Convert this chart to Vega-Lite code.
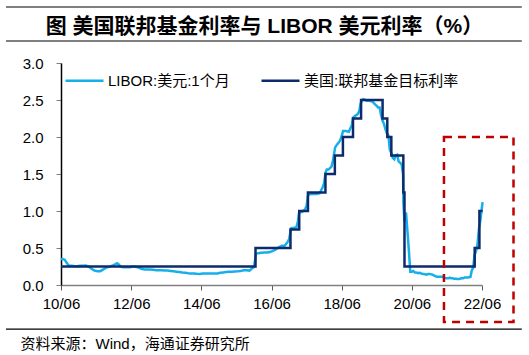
{
  "$schema": "https://vega.github.io/schema/vega-lite/v6.json",
  "width": 421,
  "height": 222,
  "autosize": {"type": "none"},
  "padding": {"left": 61, "top": 63, "right": 47, "bottom": 70},
  "background": "white",
  "config": {
    "view": {"stroke": null},
    "font": "Liberation Sans, Noto Sans CJK SC",
    "axis": {"grid": false, "labelFont": "Liberation Sans, Noto Sans CJK SC", "labelFontSize": 15, "labelColor": "#000000", "labelOverlap": false},
    "axisY": {"values": [0, 0.5, 1, 1.5, 2, 2.5, 3], "format": ".1f", "title": null, "tickSize": 5, "tickColor": "#808080", "domainColor": "#000000", "domainWidth": 1.5, "labelPadding": 13, "labelOverlap": false, "labelFlush": false},
    "legend": {"labelFont": "Liberation Sans, Noto Sans CJK SC", "labelFontSize": 15, "labelColor": "#000000"}
  },
  "datasets": {
    "rates": [
      {"date": "2010-06-01", "series": "LIBOR:美元:1个月", "value": 0.35},
      {"date": "2010-06-20", "series": "LIBOR:美元:1个月", "value": 0.35},
      {"date": "2010-07-10", "series": "LIBOR:美元:1个月", "value": 0.34},
      {"date": "2010-07-25", "series": "LIBOR:美元:1个月", "value": 0.31},
      {"date": "2010-08-10", "series": "LIBOR:美元:1个月", "value": 0.28},
      {"date": "2010-08-25", "series": "LIBOR:美元:1个月", "value": 0.26},
      {"date": "2010-09-15", "series": "LIBOR:美元:1个月", "value": 0.26},
      {"date": "2010-10-15", "series": "LIBOR:美元:1个月", "value": 0.256},
      {"date": "2010-11-15", "series": "LIBOR:美元:1个月", "value": 0.253},
      {"date": "2010-12-15", "series": "LIBOR:美元:1个月", "value": 0.26},
      {"date": "2011-01-15", "series": "LIBOR:美元:1个月", "value": 0.26},
      {"date": "2011-02-15", "series": "LIBOR:美元:1个月", "value": 0.262},
      {"date": "2011-03-15", "series": "LIBOR:美元:1个月", "value": 0.25},
      {"date": "2011-04-15", "series": "LIBOR:美元:1个月", "value": 0.22},
      {"date": "2011-05-15", "series": "LIBOR:美元:1个月", "value": 0.195},
      {"date": "2011-06-15", "series": "LIBOR:美元:1个月", "value": 0.187},
      {"date": "2011-07-15", "series": "LIBOR:美元:1个月", "value": 0.187},
      {"date": "2011-08-15", "series": "LIBOR:美元:1个月", "value": 0.21},
      {"date": "2011-09-15", "series": "LIBOR:美元:1个月", "value": 0.235},
      {"date": "2011-10-15", "series": "LIBOR:美元:1个月", "value": 0.245},
      {"date": "2011-11-15", "series": "LIBOR:美元:1个月", "value": 0.26},
      {"date": "2011-12-15", "series": "LIBOR:美元:1个月", "value": 0.28},
      {"date": "2012-01-05", "series": "LIBOR:美元:1个月", "value": 0.295},
      {"date": "2012-01-20", "series": "LIBOR:美元:1个月", "value": 0.28},
      {"date": "2012-02-15", "series": "LIBOR:美元:1个月", "value": 0.245},
      {"date": "2012-03-15", "series": "LIBOR:美元:1个月", "value": 0.24},
      {"date": "2012-04-15", "series": "LIBOR:美元:1个月", "value": 0.24},
      {"date": "2012-05-15", "series": "LIBOR:美元:1个月", "value": 0.24},
      {"date": "2012-06-15", "series": "LIBOR:美元:1个月", "value": 0.245},
      {"date": "2012-07-15", "series": "LIBOR:美元:1个月", "value": 0.245},
      {"date": "2012-08-15", "series": "LIBOR:美元:1个月", "value": 0.235},
      {"date": "2012-09-15", "series": "LIBOR:美元:1个月", "value": 0.22},
      {"date": "2012-10-15", "series": "LIBOR:美元:1个月", "value": 0.21},
      {"date": "2012-11-15", "series": "LIBOR:美元:1个月", "value": 0.21},
      {"date": "2012-12-15", "series": "LIBOR:美元:1个月", "value": 0.21},
      {"date": "2013-01-15", "series": "LIBOR:美元:1个月", "value": 0.205},
      {"date": "2013-02-15", "series": "LIBOR:美元:1个月", "value": 0.2},
      {"date": "2013-03-15", "series": "LIBOR:美元:1个月", "value": 0.2},
      {"date": "2013-04-15", "series": "LIBOR:美元:1个月", "value": 0.2},
      {"date": "2013-05-15", "series": "LIBOR:美元:1个月", "value": 0.195},
      {"date": "2013-06-15", "series": "LIBOR:美元:1个月", "value": 0.195},
      {"date": "2013-07-15", "series": "LIBOR:美元:1个月", "value": 0.19},
      {"date": "2013-08-15", "series": "LIBOR:美元:1个月", "value": 0.185},
      {"date": "2013-09-15", "series": "LIBOR:美元:1个月", "value": 0.18},
      {"date": "2013-10-15", "series": "LIBOR:美元:1个月", "value": 0.175},
      {"date": "2013-11-15", "series": "LIBOR:美元:1个月", "value": 0.17},
      {"date": "2013-12-15", "series": "LIBOR:美元:1个月", "value": 0.167},
      {"date": "2014-01-15", "series": "LIBOR:美元:1个月", "value": 0.16},
      {"date": "2014-02-15", "series": "LIBOR:美元:1个月", "value": 0.155},
      {"date": "2014-03-15", "series": "LIBOR:美元:1个月", "value": 0.155},
      {"date": "2014-04-15", "series": "LIBOR:美元:1个月", "value": 0.152},
      {"date": "2014-05-15", "series": "LIBOR:美元:1个月", "value": 0.15},
      {"date": "2014-06-15", "series": "LIBOR:美元:1个月", "value": 0.155},
      {"date": "2014-07-15", "series": "LIBOR:美元:1个月", "value": 0.155},
      {"date": "2014-08-15", "series": "LIBOR:美元:1个月", "value": 0.157},
      {"date": "2014-09-15", "series": "LIBOR:美元:1个月", "value": 0.155},
      {"date": "2014-10-15", "series": "LIBOR:美元:1个月", "value": 0.155},
      {"date": "2014-11-15", "series": "LIBOR:美元:1个月", "value": 0.155},
      {"date": "2014-12-15", "series": "LIBOR:美元:1个月", "value": 0.165},
      {"date": "2015-01-15", "series": "LIBOR:美元:1个月", "value": 0.17},
      {"date": "2015-02-15", "series": "LIBOR:美元:1个月", "value": 0.175},
      {"date": "2015-03-15", "series": "LIBOR:美元:1个月", "value": 0.178},
      {"date": "2015-04-15", "series": "LIBOR:美元:1个月", "value": 0.18},
      {"date": "2015-05-15", "series": "LIBOR:美元:1个月", "value": 0.184},
      {"date": "2015-06-15", "series": "LIBOR:美元:1个月", "value": 0.186},
      {"date": "2015-07-15", "series": "LIBOR:美元:1个月", "value": 0.19},
      {"date": "2015-08-15", "series": "LIBOR:美元:1个月", "value": 0.2},
      {"date": "2015-09-15", "series": "LIBOR:美元:1个月", "value": 0.2},
      {"date": "2015-10-15", "series": "LIBOR:美元:1个月", "value": 0.195},
      {"date": "2015-11-15", "series": "LIBOR:美元:1个月", "value": 0.23},
      {"date": "2015-12-01", "series": "LIBOR:美元:1个月", "value": 0.24},
      {"date": "2015-12-15", "series": "LIBOR:美元:1个月", "value": 0.36},
      {"date": "2015-12-22", "series": "LIBOR:美元:1个月", "value": 0.42},
      {"date": "2016-01-15", "series": "LIBOR:美元:1个月", "value": 0.43},
      {"date": "2016-02-15", "series": "LIBOR:美元:1个月", "value": 0.435},
      {"date": "2016-03-15", "series": "LIBOR:美元:1个月", "value": 0.44},
      {"date": "2016-04-15", "series": "LIBOR:美元:1个月", "value": 0.44},
      {"date": "2016-05-15", "series": "LIBOR:美元:1个月", "value": 0.445},
      {"date": "2016-06-15", "series": "LIBOR:美元:1个月", "value": 0.46},
      {"date": "2016-07-15", "series": "LIBOR:美元:1个月", "value": 0.48},
      {"date": "2016-08-15", "series": "LIBOR:美元:1个月", "value": 0.51},
      {"date": "2016-09-15", "series": "LIBOR:美元:1个月", "value": 0.53},
      {"date": "2016-10-15", "series": "LIBOR:美元:1个月", "value": 0.53},
      {"date": "2016-11-15", "series": "LIBOR:美元:1个月", "value": 0.58},
      {"date": "2016-12-01", "series": "LIBOR:美元:1个月", "value": 0.62},
      {"date": "2016-12-15", "series": "LIBOR:美元:1个月", "value": 0.72},
      {"date": "2016-12-25", "series": "LIBOR:美元:1个月", "value": 0.77},
      {"date": "2017-01-15", "series": "LIBOR:美元:1个月", "value": 0.77},
      {"date": "2017-02-15", "series": "LIBOR:美元:1个月", "value": 0.78},
      {"date": "2017-03-01", "series": "LIBOR:美元:1个月", "value": 0.85},
      {"date": "2017-03-15", "series": "LIBOR:美元:1个月", "value": 0.98},
      {"date": "2017-04-15", "series": "LIBOR:美元:1个月", "value": 0.99},
      {"date": "2017-05-15", "series": "LIBOR:美元:1个月", "value": 1.02},
      {"date": "2017-06-01", "series": "LIBOR:美元:1个月", "value": 1.07},
      {"date": "2017-06-15", "series": "LIBOR:美元:1个月", "value": 1.21},
      {"date": "2017-07-15", "series": "LIBOR:美元:1个月", "value": 1.23},
      {"date": "2017-08-15", "series": "LIBOR:美元:1个月", "value": 1.23},
      {"date": "2017-09-15", "series": "LIBOR:美元:1个月", "value": 1.23},
      {"date": "2017-10-15", "series": "LIBOR:美元:1个月", "value": 1.24},
      {"date": "2017-11-15", "series": "LIBOR:美元:1个月", "value": 1.32},
      {"date": "2017-12-01", "series": "LIBOR:美元:1个月", "value": 1.38},
      {"date": "2017-12-15", "series": "LIBOR:美元:1个月", "value": 1.52},
      {"date": "2017-12-28", "series": "LIBOR:美元:1个月", "value": 1.56},
      {"date": "2018-01-15", "series": "LIBOR:美元:1个月", "value": 1.56},
      {"date": "2018-02-15", "series": "LIBOR:美元:1个月", "value": 1.6},
      {"date": "2018-03-01", "series": "LIBOR:美元:1个月", "value": 1.67},
      {"date": "2018-03-15", "series": "LIBOR:美元:1个月", "value": 1.78},
      {"date": "2018-03-25", "series": "LIBOR:美元:1个月", "value": 1.86},
      {"date": "2018-04-15", "series": "LIBOR:美元:1个月", "value": 1.9},
      {"date": "2018-05-15", "series": "LIBOR:美元:1个月", "value": 1.95},
      {"date": "2018-06-01", "series": "LIBOR:美元:1个月", "value": 2.01},
      {"date": "2018-06-15", "series": "LIBOR:美元:1个月", "value": 2.08},
      {"date": "2018-07-15", "series": "LIBOR:美元:1个月", "value": 2.08},
      {"date": "2018-08-15", "series": "LIBOR:美元:1个月", "value": 2.07},
      {"date": "2018-09-01", "series": "LIBOR:美元:1个月", "value": 2.12},
      {"date": "2018-09-15", "series": "LIBOR:美元:1个月", "value": 2.16},
      {"date": "2018-09-28", "series": "LIBOR:美元:1个月", "value": 2.26},
      {"date": "2018-10-15", "series": "LIBOR:美元:1个月", "value": 2.28},
      {"date": "2018-11-15", "series": "LIBOR:美元:1个月", "value": 2.31},
      {"date": "2018-12-01", "series": "LIBOR:美元:1个月", "value": 2.35},
      {"date": "2018-12-15", "series": "LIBOR:美元:1个月", "value": 2.45},
      {"date": "2018-12-31", "series": "LIBOR:美元:1个月", "value": 2.5},
      {"date": "2019-01-15", "series": "LIBOR:美元:1个月", "value": 2.51},
      {"date": "2019-02-15", "series": "LIBOR:美元:1个月", "value": 2.49},
      {"date": "2019-03-15", "series": "LIBOR:美元:1个月", "value": 2.49},
      {"date": "2019-04-15", "series": "LIBOR:美元:1个月", "value": 2.48},
      {"date": "2019-05-15", "series": "LIBOR:美元:1个月", "value": 2.44},
      {"date": "2019-06-01", "series": "LIBOR:美元:1个月", "value": 2.42},
      {"date": "2019-06-15", "series": "LIBOR:美元:1个月", "value": 2.4},
      {"date": "2019-07-01", "series": "LIBOR:美元:1个月", "value": 2.4},
      {"date": "2019-07-15", "series": "LIBOR:美元:1个月", "value": 2.3},
      {"date": "2019-08-01", "series": "LIBOR:美元:1个月", "value": 2.22},
      {"date": "2019-08-15", "series": "LIBOR:美元:1个月", "value": 2.18},
      {"date": "2019-09-01", "series": "LIBOR:美元:1个月", "value": 2.1},
      {"date": "2019-09-15", "series": "LIBOR:美元:1个月", "value": 2.05},
      {"date": "2019-10-01", "series": "LIBOR:美元:1个月", "value": 2.02},
      {"date": "2019-10-15", "series": "LIBOR:美元:1个月", "value": 1.83},
      {"date": "2019-11-01", "series": "LIBOR:美元:1个月", "value": 1.78},
      {"date": "2019-11-15", "series": "LIBOR:美元:1个月", "value": 1.72},
      {"date": "2019-12-01", "series": "LIBOR:美元:1个月", "value": 1.7},
      {"date": "2019-12-15", "series": "LIBOR:美元:1个月", "value": 1.75},
      {"date": "2019-12-31", "series": "LIBOR:美元:1个月", "value": 1.76},
      {"date": "2020-01-15", "series": "LIBOR:美元:1个月", "value": 1.67},
      {"date": "2020-02-01", "series": "LIBOR:美元:1个月", "value": 1.65},
      {"date": "2020-02-15", "series": "LIBOR:美元:1个月", "value": 1.63},
      {"date": "2020-03-01", "series": "LIBOR:美元:1个月", "value": 1.5},
      {"date": "2020-03-05", "series": "LIBOR:美元:1个月", "value": 1.1},
      {"date": "2020-03-16", "series": "LIBOR:美元:1个月", "value": 0.86},
      {"date": "2020-03-25", "series": "LIBOR:美元:1个月", "value": 0.95},
      {"date": "2020-04-01", "series": "LIBOR:美元:1个月", "value": 0.98},
      {"date": "2020-04-15", "series": "LIBOR:美元:1个月", "value": 0.74},
      {"date": "2020-05-01", "series": "LIBOR:美元:1个月", "value": 0.46},
      {"date": "2020-05-15", "series": "LIBOR:美元:1个月", "value": 0.18},
      {"date": "2020-06-01", "series": "LIBOR:美元:1个月", "value": 0.18},
      {"date": "2020-06-15", "series": "LIBOR:美元:1个月", "value": 0.19},
      {"date": "2020-07-01", "series": "LIBOR:美元:1个月", "value": 0.17},
      {"date": "2020-07-15", "series": "LIBOR:美元:1个月", "value": 0.17},
      {"date": "2020-08-01", "series": "LIBOR:美元:1个月", "value": 0.16},
      {"date": "2020-08-15", "series": "LIBOR:美元:1个月", "value": 0.165},
      {"date": "2020-09-01", "series": "LIBOR:美元:1个月", "value": 0.16},
      {"date": "2020-09-15", "series": "LIBOR:美元:1个月", "value": 0.15},
      {"date": "2020-10-01", "series": "LIBOR:美元:1个月", "value": 0.148},
      {"date": "2020-10-15", "series": "LIBOR:美元:1个月", "value": 0.145},
      {"date": "2020-11-01", "series": "LIBOR:美元:1个月", "value": 0.14},
      {"date": "2020-11-15", "series": "LIBOR:美元:1个月", "value": 0.15},
      {"date": "2020-12-01", "series": "LIBOR:美元:1个月", "value": 0.15},
      {"date": "2020-12-15", "series": "LIBOR:美元:1个月", "value": 0.145},
      {"date": "2021-01-01", "series": "LIBOR:美元:1个月", "value": 0.14},
      {"date": "2021-01-15", "series": "LIBOR:美元:1个月", "value": 0.13},
      {"date": "2021-02-01", "series": "LIBOR:美元:1个月", "value": 0.12},
      {"date": "2021-02-15", "series": "LIBOR:美元:1个月", "value": 0.11},
      {"date": "2021-03-01", "series": "LIBOR:美元:1个月", "value": 0.11},
      {"date": "2021-03-15", "series": "LIBOR:美元:1个月", "value": 0.11},
      {"date": "2021-04-01", "series": "LIBOR:美元:1个月", "value": 0.11},
      {"date": "2021-04-15", "series": "LIBOR:美元:1个月", "value": 0.11},
      {"date": "2021-05-01", "series": "LIBOR:美元:1个月", "value": 0.1},
      {"date": "2021-05-15", "series": "LIBOR:美元:1个月", "value": 0.095},
      {"date": "2021-06-01", "series": "LIBOR:美元:1个月", "value": 0.09},
      {"date": "2021-06-15", "series": "LIBOR:美元:1个月", "value": 0.09},
      {"date": "2021-07-01", "series": "LIBOR:美元:1个月", "value": 0.1},
      {"date": "2021-07-15", "series": "LIBOR:美元:1个月", "value": 0.09},
      {"date": "2021-08-01", "series": "LIBOR:美元:1个月", "value": 0.09},
      {"date": "2021-08-15", "series": "LIBOR:美元:1个月", "value": 0.085},
      {"date": "2021-09-01", "series": "LIBOR:美元:1个月", "value": 0.085},
      {"date": "2021-09-15", "series": "LIBOR:美元:1个月", "value": 0.08},
      {"date": "2021-10-01", "series": "LIBOR:美元:1个月", "value": 0.08},
      {"date": "2021-10-15", "series": "LIBOR:美元:1个月", "value": 0.085},
      {"date": "2021-11-01", "series": "LIBOR:美元:1个月", "value": 0.09},
      {"date": "2021-11-15", "series": "LIBOR:美元:1个月", "value": 0.09},
      {"date": "2021-12-01", "series": "LIBOR:美元:1个月", "value": 0.1},
      {"date": "2021-12-15", "series": "LIBOR:美元:1个月", "value": 0.1},
      {"date": "2022-01-01", "series": "LIBOR:美元:1个月", "value": 0.1},
      {"date": "2022-01-15", "series": "LIBOR:美元:1个月", "value": 0.105},
      {"date": "2022-02-01", "series": "LIBOR:美元:1个月", "value": 0.11},
      {"date": "2022-02-15", "series": "LIBOR:美元:1个月", "value": 0.2},
      {"date": "2022-03-01", "series": "LIBOR:美元:1个月", "value": 0.23},
      {"date": "2022-03-15", "series": "LIBOR:美元:1个月", "value": 0.4},
      {"date": "2022-04-01", "series": "LIBOR:美元:1个月", "value": 0.46},
      {"date": "2022-04-15", "series": "LIBOR:美元:1个月", "value": 0.55},
      {"date": "2022-05-01", "series": "LIBOR:美元:1个月", "value": 0.77},
      {"date": "2022-05-15", "series": "LIBOR:美元:1个月", "value": 0.87},
      {"date": "2022-06-01", "series": "LIBOR:美元:1个月", "value": 1.06},
      {"date": "2022-06-07", "series": "LIBOR:美元:1个月", "value": 1.12},
      {"date": "2010-06-01", "series": "美国:联邦基金目标利率", "value": 0.25},
      {"date": "2015-12-17", "series": "美国:联邦基金目标利率", "value": 0.5},
      {"date": "2016-12-15", "series": "美国:联邦基金目标利率", "value": 0.75},
      {"date": "2017-03-16", "series": "美国:联邦基金目标利率", "value": 1.0},
      {"date": "2017-06-15", "series": "美国:联邦基金目标利率", "value": 1.25},
      {"date": "2017-12-14", "series": "美国:联邦基金目标利率", "value": 1.5},
      {"date": "2018-03-22", "series": "美国:联邦基金目标利率", "value": 1.75},
      {"date": "2018-06-14", "series": "美国:联邦基金目标利率", "value": 2.0},
      {"date": "2018-09-27", "series": "美国:联邦基金目标利率", "value": 2.25},
      {"date": "2018-12-20", "series": "美国:联邦基金目标利率", "value": 2.5},
      {"date": "2019-08-01", "series": "美国:联邦基金目标利率", "value": 2.25},
      {"date": "2019-09-19", "series": "美国:联邦基金目标利率", "value": 2.0},
      {"date": "2019-10-31", "series": "美国:联邦基金目标利率", "value": 1.75},
      {"date": "2020-03-04", "series": "美国:联邦基金目标利率", "value": 1.25},
      {"date": "2020-03-16", "series": "美国:联邦基金目标利率", "value": 0.25},
      {"date": "2022-03-17", "series": "美国:联邦基金目标利率", "value": 0.5},
      {"date": "2022-05-05", "series": "美国:联邦基金目标利率", "value": 1.0},
      {"date": "2022-06-07", "series": "美国:联邦基金目标利率", "value": 1.0}
    ]
  },
  "layer": [
    {
      "data": {"name": "rates"},
      "transform": [{"filter": "datum.series === 'LIBOR:美元:1个月'"}],
      "mark": {"type": "line", "strokeWidth": 2.5, "interpolate": "linear"},
      "encoding": {
        "x": {
          "field": "date",
          "type": "temporal",
          "scale": {"type": "utc", "domain": [{"year": 2010, "month": 6, "date": 1, "utc": true}, {"year": 2022, "month": 6, "date": 1, "utc": true}]},
          "axis": {
            "values": [
              {"year": 2010, "month": 6, "date": 1, "utc": true},
              {"year": 2012, "month": 6, "date": 1, "utc": true},
              {"year": 2014, "month": 6, "date": 1, "utc": true},
              {"year": 2016, "month": 6, "date": 1, "utc": true},
              {"year": 2018, "month": 6, "date": 1, "utc": true},
              {"year": 2020, "month": 6, "date": 1, "utc": true},
              {"year": 2022, "month": 6, "date": 1, "utc": true}
            ],
            "labelExpr": "utcFormat(datum.value, '%y/%m')",
            "labelPadding": 6,
            "tickSize": 5,
            "tickColor": "#595959",
            "domainColor": "#808080",
            "domainWidth": 1.5,
            "labelFlush": false,
            "labelOverlap": false,
            "title": "资料来源：Wind，海通证券研究所",
            "titleFont": "Liberation Sans, Noto Sans CJK SC",
            "titleFontSize": 15,
            "titleFontWeight": "normal",
            "titleColor": "#000000",
            "titleAnchor": "start",
            "titleAlign": "left",
            "titleBaseline": "middle",
            "titleX": -41,
            "titleY": 58
          }
        },
        "y": {
          "field": "value",
          "type": "quantitative",
          "scale": {"domain": [0, 3], "nice": false, "zero": false},
          "axis": {"values": [0, 0.5, 1, 1.5, 2, 2.5, 3], "format": ".1f", "title": null, "labelOverlap": false}
        },
        "color": {
          "field": "series",
          "type": "nominal",
          "scale": {"domain": ["LIBOR:美元:1个月", "美国:联邦基金目标利率"], "range": ["#17afea", "#0d2b6b"]},
          "legend": {
            "title": null,
            "orient": "none",
            "legendX": 3,
            "legendY": -3,
            "direction": "horizontal",
            "symbolType": "stroke",
            "symbolSize": 1444,
            "symbolStrokeWidth": 2.5,
            "labelOffset": 3,
            "columnPadding": 26,
            "padding": 0
          }
        }
      }
    },
    {
      "data": {"name": "rates"},
      "transform": [{"filter": "datum.series === '美国:联邦基金目标利率'"}],
      "mark": {"type": "line", "strokeWidth": 2.5, "interpolate": "step-after"},
      "encoding": {
        "x": {"field": "date", "type": "temporal"},
        "y": {"field": "value", "type": "quantitative", "axis": {"values": [0, 0.5, 1, 1.5, 2, 2.5, 3], "format": ".1f", "title": null, "labelOverlap": false}},
        "color": {"field": "series", "type": "nominal"}
      }
    },
    {
      "data": {"values": [{}]},
      "mark": {"type": "rect", "fill": "#c00000", "fillOpacity": 0, "stroke": "#c00000", "strokeWidth": 2.5, "strokeDash": [8, 6], "clip": false},
      "encoding": {
        "x": {"datum": {"year": 2021, "month": 5, "date": 1}, "type": "temporal"},
        "x2": {"datum": {"year": 2023, "month": 4, "date": 25}},
        "y": {"datum": 2.0, "type": "quantitative", "axis": {"values": [0, 0.5, 1, 1.5, 2, 2.5, 3], "format": ".1f", "title": null, "labelOverlap": false}},
        "y2": {"datum": -0.5}
      }
    },
    {
      "data": {"values": [{}]},
      "mark": {"type": "rule", "color": "#000000", "strokeWidth": 1.2, "clip": false},
      "encoding": {
        "x": {"datum": {"year": 2008, "month": 11, "date": 5}, "type": "temporal"},
        "x2": {"datum": {"year": 2023, "month": 7, "date": 20}},
        "y": {"datum": 3.757, "type": "quantitative", "axis": {"values": [0, 0.5, 1, 1.5, 2, 2.5, 3], "format": ".1f", "title": null, "labelOverlap": false}}
      }
    },
    {
      "data": {"values": [{}]},
      "mark": {"type": "rule", "color": "#000000", "strokeWidth": 1.2, "clip": false},
      "encoding": {
        "x": {"datum": {"year": 2008, "month": 11, "date": 5}, "type": "temporal"},
        "x2": {"datum": {"year": 2023, "month": 7, "date": 20}},
        "y": {"datum": 3.297, "type": "quantitative", "axis": {"values": [0, 0.5, 1, 1.5, 2, 2.5, 3], "format": ".1f", "title": null, "labelOverlap": false}}
      }
    },
    {
      "data": {"values": [{}]},
      "mark": {"type": "rule", "color": "#000000", "strokeWidth": 1.2, "clip": false},
      "encoding": {
        "x": {"datum": {"year": 2008, "month": 11, "date": 5}, "type": "temporal"},
        "x2": {"datum": {"year": 2023, "month": 7, "date": 20}},
        "y": {"datum": -0.595, "type": "quantitative", "axis": {"values": [0, 0.5, 1, 1.5, 2, 2.5, 3], "format": ".1f", "title": null, "labelOverlap": false}}
      }
    },
    {
      "data": {"values": [{}]},
      "mark": {"type": "text", "font": "Liberation Sans, Noto Sans CJK SC", "fontSize": 21, "fontWeight": "bold", "color": "#000000", "align": "center", "baseline": "alphabetic", "clip": false},
      "encoding": {
        "x": {"datum": {"year": 2016, "month": 3, "date": 19}, "type": "temporal"},
        "y": {"datum": 3.41, "type": "quantitative", "axis": {"values": [0, 0.5, 1, 1.5, 2, 2.5, 3], "format": ".1f", "title": null, "labelOverlap": false}},
        "text": {"value": "图  美国联邦基金利率与 LIBOR 美元利率（%）"}
      }
    }
  ]
}
